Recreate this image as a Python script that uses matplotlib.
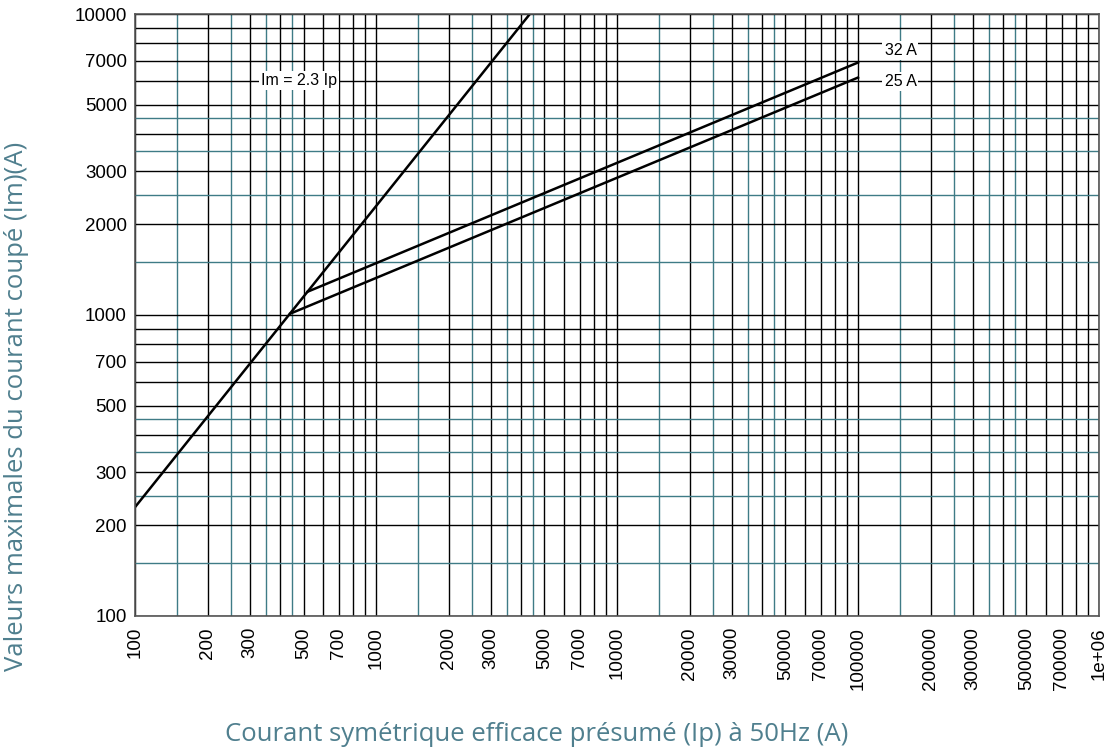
import numpy as np
import matplotlib.pyplot as plt
from matplotlib.ticker import FixedLocator, FixedFormatter

plt.rcParams['font.family'] = ['Liberation Sans', 'DejaVu Sans']

# Im = 2.3 Ip limit line
ip_lim = [100, 10000 / 2.3]
im_lim = [230, 10000]

# fuse curves (start on the limit line, end at 100 kA)
ip_32 = [520, 100000]
im_32 = [1195, 6900]
ip_25 = [440, 100000]
im_25 = [1010, 6150]

decades_x = [100, 1000, 10000, 100000]
decades_y = [100, 1000]
black_mult = [1, 2, 3, 4, 5, 6, 7, 8, 9]
teal_mult = [1.5, 2.5, 3.5, 4.5]

x_labels = [100, 200, 300, 500, 700, 1000, 2000, 3000, 5000, 7000, 10000,
            20000, 30000, 50000, 70000, 100000, 200000, 300000, 500000, 700000, 1000000]
y_labels = [100, 200, 300, 500, 700, 1000, 2000, 3000, 5000, 7000, 10000]

teal = "#3f7b86"
label_col = "#4f7f8e"

x_black = [d * m for d in decades_x for m in black_mult] + [1000000]
x_teal = [d * m for d in decades_x for m in teal_mult]
y_black = [d * m for d in decades_y for m in black_mult] + [10000]
y_teal = [d * m for d in decades_y for m in teal_mult]

def fmt(v):
    if v >= 1000000:
        return "1e+06"
    return str(int(v))

fig = plt.figure(figsize=(11.07, 7.49), dpi=100)
ax = fig.add_axes([0.122, 0.1776, 0.8708, 0.8037])
ax.set_xscale("log")
ax.set_yscale("log")
ax.set_xlim(100, 1000000)
ax.set_ylim(100, 10000)

ax.xaxis.set_major_locator(FixedLocator(x_black))
ax.xaxis.set_major_formatter(FixedFormatter([fmt(v) if v in x_labels else "" for v in x_black]))
ax.xaxis.set_minor_locator(FixedLocator(x_teal))
ax.yaxis.set_major_locator(FixedLocator(y_black))
ax.yaxis.set_major_formatter(FixedFormatter([fmt(v) if v in y_labels else "" for v in y_black]))
ax.yaxis.set_minor_locator(FixedLocator(y_teal))
ax.xaxis.set_minor_formatter(FixedFormatter([]))
ax.yaxis.set_minor_formatter(FixedFormatter([]))

ax.tick_params(which="both", length=0, labelsize=13.5)
ax.tick_params(axis="x", labelrotation=90, pad=8)
ax.tick_params(axis="y", pad=6)

ax.grid(which="major", color="black", lw=1.0)
ax.grid(which="minor", color=teal, lw=1.0)
ax.set_axisbelow(True)
for s in ax.spines.values():
    s.set_color("#555555")
    s.set_linewidth(1.2)

ax.plot(ip_lim, im_lim, color="black", lw=1.8)
ax.plot(ip_32, im_32, color="black", lw=1.8)
ax.plot(ip_25, im_25, color="black", lw=1.8)

box = dict(facecolor="white", edgecolor="none", pad=1.5)
ax.text(480, 6000, "Im = 2.3 Ip", ha="center", va="center", fontsize=11.5, bbox=box)
ax.text(150000, 7550, "32 A", ha="center", va="center", fontsize=11.5, bbox=box)
ax.text(150000, 5950, "25 A", ha="center", va="center", fontsize=11.5, bbox=box)

fig.text(0.4847, 1 - 741.0 / 749, "Courant symétrique efficace présumé (Ip) à 50Hz (A)",
         ha="center", va="baseline", color=label_col, fontsize=18.5, family="Open Sans")
fig.text(0.004, 1 - 406.0 / 749, "Valeurs maximales du courant coupé (Im)(A)",
         ha="left", va="center", rotation=90, color=label_col, fontsize=18.5, family="Open Sans")

fig.savefig("out.png", dpi=100)
